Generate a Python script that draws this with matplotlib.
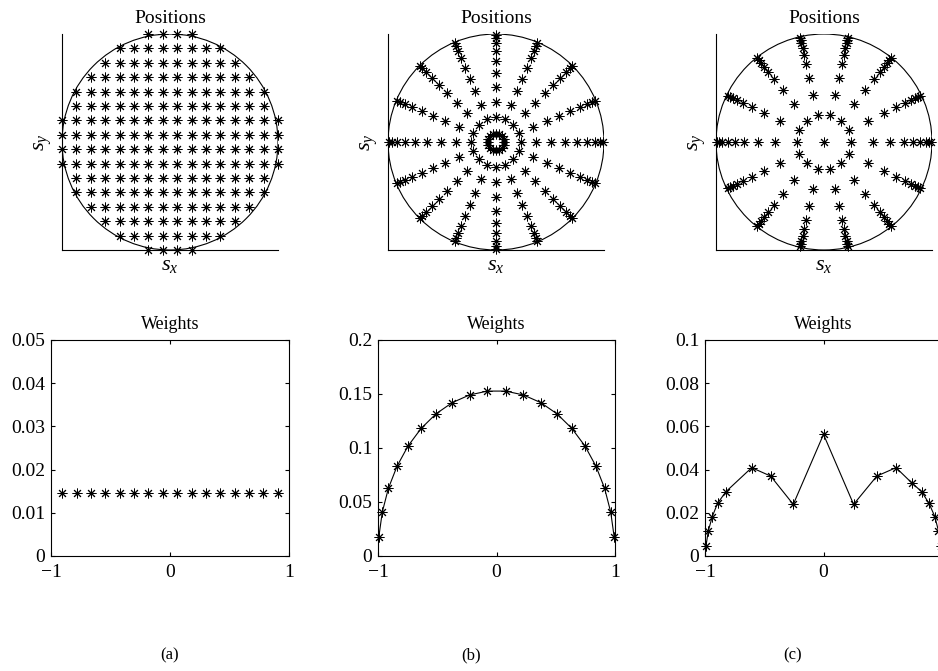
import numpy as np
import matplotlib.pyplot as plt
from matplotlib.patches import Circle

plt.rcParams["font.family"] = "Liberation Serif"
plt.rcParams["mathtext.fontset"] = "custom"
plt.rcParams["mathtext.rm"] = "Liberation Serif"
plt.rcParams["mathtext.it"] = "Liberation Serif:italic"

# ---- (a) uniform grid inside the disc
grid_levels = [0.067, 0.2, 0.333, 0.467, 0.6, 0.733, 0.867, 1.0]  # |y| of each row pair
row_half_counts = [8, 8, 7, 7, 6, 5, 4, 2]  # points on each side of the centre line
weights_a_x = [-0.905, -0.784, -0.664, -0.543, -0.422, -0.302, -0.181, -0.060,
               0.060, 0.181, 0.302, 0.422, 0.543, 0.664, 0.784, 0.905]
weights_a_y = [0.0146] * 16

# ---- (b) polar grid, 16 rays
angles_b = [0, 22.5, 45, 67.5, 90, 112.5, 135, 157.5,
            180, 202.5, 225, 247.5, 270, 292.5, 315, 337.5]
radii_b = [0.0765, 0.2277, 0.3737, 0.5108, 0.6361, 0.7463, 0.8391, 0.9122, 0.9639, 0.9931]
weights_b_x = [-0.9931, -0.9639, -0.9122, -0.8391, -0.7463, -0.6361, -0.5108, -0.3737,
               -0.2277, -0.0765, 0.0765, 0.2277, 0.3737, 0.5108, 0.6361, 0.7463,
               0.8391, 0.9122, 0.9639, 0.9931]
weights_b_y = [0.0176, 0.0406, 0.0627, 0.0832, 0.1019, 0.1181, 0.1316, 0.1420,
               0.1491, 0.1527, 0.1527, 0.1491, 0.1420, 0.1316, 0.1181, 0.1019,
               0.0832, 0.0627, 0.0406, 0.0176]

# ---- (c) polar grid, 14 rays plus the centre
angles_c = [0, 25.71, 51.43, 77.14, 102.86, 128.57, 154.29,
            180, 205.71, 231.43, 257.14, 282.86, 308.57, 334.29]
radii_c = [0.254, 0.45, 0.612, 0.744, 0.828, 0.89, 0.94, 0.97, 0.99]
weights_c_x = [-0.992, -0.972, -0.939, -0.894, -0.823, -0.606, -0.446, -0.255, 0.0,
               0.254, 0.45, 0.612, 0.744, 0.828, 0.89, 0.94, 0.97, 0.992]
weights_c_y = [0.0046, 0.0116, 0.0182, 0.0244, 0.0298, 0.0409, 0.0370, 0.0239, 0.0563,
               0.0239, 0.0370, 0.0409, 0.0339, 0.0298, 0.0244, 0.0182, 0.0116, 0.0046]

star = (8, 2, 0)
W, H = 938, 671
fig = plt.figure(figsize=(W / 100, H / 100), dpi=100)


def px_axes(left, top, width, height):
    return fig.add_axes([left / W, 1 - (top + height) / H, width / W, height / H])


def positions_panel(ax, xs, ys):
    ax.add_patch(Circle((0, 0), 1, fill=False, color="black", lw=0.8))
    ax.plot(xs, ys, ls="none", marker=star, ms=7, mew=0.7, color="black", clip_on=False)
    ax.set_xlim(-1, 1)
    ax.set_ylim(-1, 1)
    ax.set_aspect("equal")
    ax.spines[["top", "right"]].set_visible(False)
    ax.set_xticks([])
    ax.set_yticks([])
    ax.set_title("Positions", fontsize=14, pad=8)
    ax.set_xlabel("$s_x$", fontsize=16, labelpad=4)
    ax.set_ylabel("$s_y$", fontsize=16, labelpad=6)


def weights_panel(ax, xs, ys, ymax, yticks, ylabels, xlabels, line=True):
    ax.plot(xs, ys, ls="-" if line else "none", lw=0.8, marker=star, ms=7, mew=0.7,
            color="black", clip_on=False)
    ax.set_xlim(-1, 1)
    ax.set_ylim(0, ymax)
    ax.set_xticks([-1, 0, 1])
    ax.set_xticklabels(xlabels)
    ax.set_yticks(yticks)
    ax.set_yticklabels(ylabels)
    ax.tick_params(direction="in", top=True, right=True, length=3, labelsize=14)
    ax.tick_params(axis="x", pad=6)
    ax.tick_params(axis="y", pad=4)
    ax.set_title("Weights", fontsize=13, pad=8)


# top row
xa, ya = [], []
for lev, n in zip(grid_levels, row_half_counts):
    for sgn in (-1, 1):
        for xv in grid_levels[:n]:
            xa += [xv, -xv]
            ya += [sgn * lev, sgn * lev]
positions_panel(px_axes(62, 34, 216, 216), xa, ya)

th_b = np.deg2rad(angles_b)
xb = np.concatenate([r * np.cos(th_b) for r in radii_b])
yb = np.concatenate([r * np.sin(th_b) for r in radii_b])
positions_panel(px_axes(388, 34, 216, 216), xb, yb)

th_c = np.deg2rad(angles_c)
xc = np.concatenate([[0.0]] + [r * np.cos(th_c) for r in radii_c])
yc = np.concatenate([[0.0]] + [r * np.sin(th_c) for r in radii_c])
positions_panel(px_axes(716, 34, 216, 216), xc, yc)

# bottom row
xlab = ["\u22121", "0", "1"]
weights_panel(px_axes(51, 340, 238, 216), weights_a_x, weights_a_y, 0.05,
              [0, 0.01, 0.02, 0.03, 0.04, 0.05], ["0", "0.01", "0.02", "0.03", "0.04", "0.05"],
              xlab, line=False)
weights_panel(px_axes(378, 340, 237, 216), weights_b_x, weights_b_y, 0.2,
              [0, 0.05, 0.1, 0.15, 0.2], ["0", "0.05", "0.1", "0.15", "0.2"], xlab)
# the "1" label of the last panel falls outside the picture
weights_panel(px_axes(705, 340, 237, 216), weights_c_x, weights_c_y, 0.1,
              [0, 0.02, 0.04, 0.06, 0.08, 0.1], ["0", "0.02", "0.04", "0.06", "0.08", "0.1"],
              ["\u22121", "0", ""])

for label, xpos in zip(["(a)", "(b)", "(c)"], [170, 471, 793]):
    fig.text(xpos / W, 1 - 655 / H, label, ha="center", va="center", fontsize=12)

fig.savefig("out.png", dpi=100)
